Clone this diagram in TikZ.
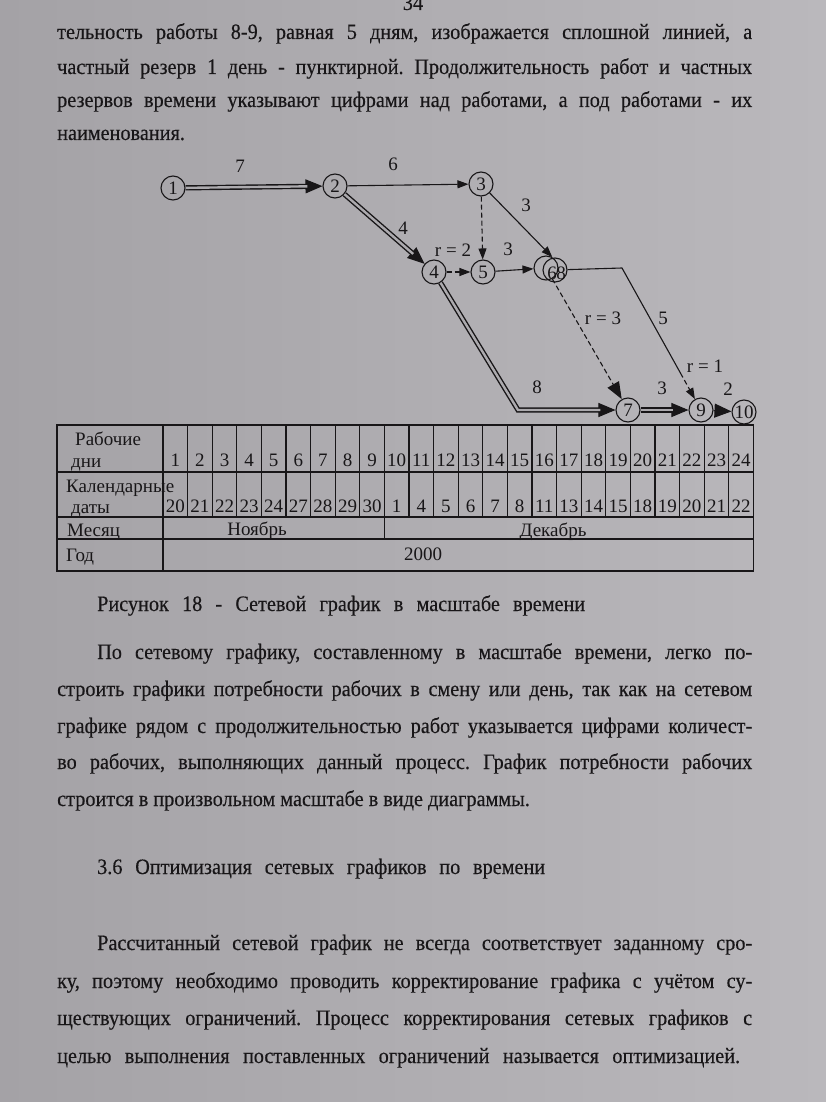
\documentclass[tikz,border=0pt]{standalone}
\usepackage{fontspec}
\setmainfont{Liberation Serif}
\newfontfamily\bodyf[FakeStretch=0.92,FakeBold=0.3]{Liberation Serif}
\usetikzlibrary{arrows.meta,calc}
\frenchspacing
\definecolor{bgL}{RGB}{164,162,166}
\definecolor{bgR}{RGB}{186,184,188}
\definecolor{bgM}{RGB}{172,170,174}
\definecolor{ink}{RGB}{24,22,24}
\tikzset{
 txt/.style={inner sep=0, anchor=base west, text=ink, font=\bodyf\fontsize{22}{26}\selectfont\frenchspacing},
 ev/.style={draw=ink, circle, minimum size=24pt, inner sep=0, line width=1.1pt, text=ink, font=\fontsize{19}{19}\selectfont},
 lbl/.style={text=ink, inner sep=0, font=\fontsize{19}{19}\selectfont},
 work/.style={draw=ink, line width=1.1pt, -{Triangle[length=11pt,width=8pt]}},
 dum/.style={draw=ink, line width=1.1pt, dash pattern=on 5pt off 3pt, -{Triangle[length=11pt,width=8pt]}},
 dumbig/.style={draw=ink, line width=1.1pt, dash pattern=on 5pt off 3pt, -{Triangle[length=17pt,width=13pt]}},
 bigtip/.style={draw=ink, line width=1pt, -{Triangle[length=17pt,width=14pt]}},
 crit/.style={draw=ink, line width=1.4pt, double=bgM, double distance=2.4pt, shorten >=15pt},
 grid/.style={draw=ink, line width=1.2pt},
 tb/.style={text=ink, inner sep=0, anchor=base, font=\fontsize{19}{19}\selectfont},
 tbl/.style={text=ink, inner sep=0, anchor=base west, font=\fontsize{19}{19}\selectfont},
}
\newcommand{\jline}[5]{\node[txt] (#1) at (#2,#3) {\makebox[#4pt][s]{#5}};}
\newcommand{\nline}[4]{\node[txt] (#1) at (#2,#3) {#4};}
\begin{document}
\begin{tikzpicture}[x=1pt,y=-1pt]
\useasboundingbox (0,0) rectangle (826,1102);
\shade[left color=bgL,right color=bgR] (0,0) rectangle (826,1102);

% page number and upper text
\node[txt, anchor=base] (pg) at (413,10) {34};
\jline{t1}{57}{39}{695}{тельность работы 8-9, равная 5 дням, изображается сплошной линией, а}
\jline{t2}{57}{74}{695}{частный резерв 1 день - пунктирной. Продолжительность работ и частных}
\jline{t3}{57}{107}{695}{резервов времени указывают цифрами над работами, а под работами - их}
\nline{t4}{57}{140}{наименования.}

% events
\node[ev] (n1) at (173,188) {1};
\node[ev] (n2) at (335,186) {2};
\node[ev] (n3) at (481,184) {3};
\node[ev] (n4) at (434,272) {4};
\node[ev] (n5) at (483,272) {5};
\node[ev] (n6) at (546,268) {};
\node[ev] (n8) at (555,270) {};
\node[lbl] (t6) at (552,273) {6};
\node[lbl] (t8) at (561,273) {8};
\node[ev] (n7) at (628,410) {7};
\node[ev] (n9) at (701,410) {9};
\node[ev] (n10) at (744,412) {10};

\coordinate (c47) at (518,410);
\coordinate (c89) at (622,268);
\coordinate (cr1) at ($(c89)!0.74!(n9)$);

% critical (double) works
\draw[bigtip] (n1) -- (n2);
\draw[crit] (n1) -- (n2);
\draw[bigtip] (n2) -- (n4);
\draw[crit] (n2) -- (n4);
\draw[bigtip] (n4) -- (c47) -- (n7);
\draw[crit] (n4) -- (c47) -- (n7);
\draw[bigtip] (n7) -- (n9);
\draw[crit] (n7) -- (n9);
\draw[bigtip] (n9) -- (n10);

% ordinary works
\draw[work] (n2) -- (n3);
\draw[work] (n3) -- (n6.60);
\draw[work] (n5) -- (n6);
\draw[draw=ink, line width=1.1pt] (n8) -- (c89) -- (cr1);
\draw[dum] (cr1) -- (n9);

% dummies
\draw[dum] (n3) -- (n5);
\draw[dum] (n4) -- (n5);
\draw[dumbig] (n6) -- (n7);

% labels
\node[lbl] (l12) at (240,166) {7};
\node[lbl] (l23) at (393,164) {6};
\node[lbl] (l24) at (403,228) {4};
\node[lbl] (lr2) at (453,250) {r = 2};
\node[lbl] (l36) at (526,205) {3};
\node[lbl] (l56) at (508,249) {3};
\node[lbl] (lr3) at (603,318) {r = 3};
\node[lbl] (l89) at (663,318) {5};
\node[lbl] (lr1) at (705,366) {r = 1};
\node[lbl] (l47) at (537,387) {8};
\node[lbl] (l79) at (662,388) {3};
\node[lbl] (l910) at (728,389) {2};

% table
\draw[grid] (57,425) rectangle (753.4,571);
\draw[grid] (57,472) -- (753.4,472);
\draw[grid] (57,517) -- (753.4,517);
\draw[grid] (57,539) -- (753.4,539);
\draw[grid] (163,425) -- (163,571);
\foreach \i in {1,...,23} \draw[grid] ({163+\i*24.6},425) -- ({163+\i*24.6},517);
\draw[grid] (384.4,517) -- (384.4,539);

\node[tbl] (h1a) at (75,445) {Рабочие};
\node[tbl] (h1b) at (71,467) {дни};
\node[tbl] (h2a) at (66,492) {Календарные};
\node[tbl] (h2b) at (71,513) {даты};
\node[tbl] (h3) at (67,536) {Месяц};
\node[tbl] (h4) at (66,561) {Год};
\foreach \d [count=\i] in {1,...,24} \node[tb] (d\i) at ({163+(\i-0.5)*24.6},466) {\d};
\foreach \d [count=\i] in {20,21,22,23,24,27,28,29,30,1,4,5,6,7,8,11,13,14,15,18,19,20,21,22}
  \node[tb] (c\i) at ({163+(\i-0.5)*24.6},512) {\d};
\node[tb] (mn) at (257,535) {Ноябрь};
\node[tb] (md) at (553,536) {Декабрь};
\node[tb] (yr) at (423,560) {2000};

% lower text
\jline{cap}{97}{611}{488}{Рисунок 18 - Сетевой график в масштабе времени}
\jline{p1}{97}{659}{655}{По сетевому графику, составленному в масштабе времени, легко по-}
\jline{p2}{57}{696}{695}{строить графики потребности рабочих в смену или день, так как на сетевом}
\jline{p3}{57}{733}{695}{графике рядом с продолжительностью работ указывается цифрами количест-}
\jline{p4}{57}{769}{695}{во рабочих, выполняющих данный процесс. График потребности рабочих}
\nline{p5}{57}{806}{строится в произвольном масштабе в виде диаграммы.}
\jline{hd}{97}{874}{448}{3.6 Оптимизация сетевых графиков по времени}
\jline{q1}{97}{950}{655}{Рассчитанный сетевой график не всегда соответствует заданному сро-}
\jline{q2}{57}{988}{695}{ку, поэтому необходимо проводить корректирование графика с учётом су-}
\jline{q3}{57}{1025}{695}{ществующих ограничений. Процесс корректирования сетевых графиков с}
\jline{q4}{57}{1063}{683}{целью выполнения поставленных ограничений называется оптимизацией.}
\end{tikzpicture}
\end{document}
